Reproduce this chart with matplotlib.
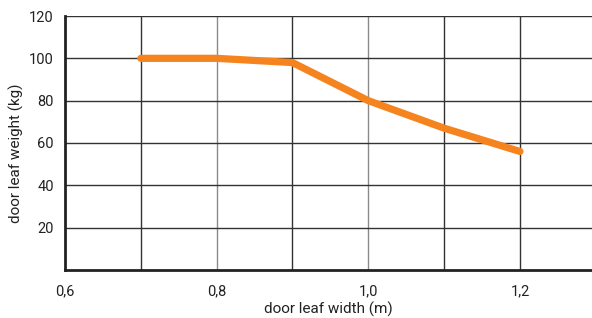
import matplotlib
matplotlib.use("Agg")
import matplotlib.pyplot as plt

width_m = [0.7, 0.8, 0.9, 1.0, 1.1, 1.2]
weight_kg = [100, 100, 98, 80, 67, 56]
x_ticks = [0.6, 0.8, 1.0, 1.2]
x_tick_labels = ["0,6", "0,8", "1,0", "1,2"]
y_ticks = [20, 40, 60, 80, 100, 120]
grid_x = [0.7, 0.8, 0.9, 1.0, 1.1, 1.2, 1.3]

plt.rcParams['font.family'] = ['Roboto', 'DejaVu Sans']

fig = plt.figure(figsize=(5.92, 3.18), dpi=100)
ax = fig.add_axes([65/592, 1-270/318, 1-65/592, (270-16)/318])

ax.set_xlim(0.6, 1.295)
ax.set_ylim(0, 120)

for gx in grid_x:
    c = "#8a8a8a" if gx in (0.8, 1.0) else "#333333"
    ax.axvline(gx, color=c, lw=1.0, zorder=1)
for gy in y_ticks:
    ax.axhline(gy, color="#333333", lw=1.0, zorder=1)

ax.plot(width_m, weight_kg, color="#F5841F", lw=5.2, solid_capstyle="round",
        solid_joinstyle="round", zorder=3)

ax.set_xticks(x_ticks)
ax.set_xticklabels(x_tick_labels)
ax.set_yticks(y_ticks)
ax.tick_params(axis="x", length=0, labelsize=10.5, colors="#222222", pad=10)
ax.tick_params(axis="y", length=0, labelsize=10.5, colors="#222222", pad=8)

for s in ["top", "right"]:
    ax.spines[s].set_visible(False)
for s in ["left", "bottom"]:
    ax.spines[s].set_linewidth(2)
    ax.spines[s].set_color("#222222")

ax.set_xlabel("door leaf width (m)", fontsize=11, color="#222222")
ax.set_ylabel("door leaf weight (kg)", fontsize=11, color="#222222")
ax.xaxis.set_label_coords(0.5, -0.125)
ax.yaxis.set_label_coords(-0.077, 0.46)

fig.savefig("out.png", dpi=100)
